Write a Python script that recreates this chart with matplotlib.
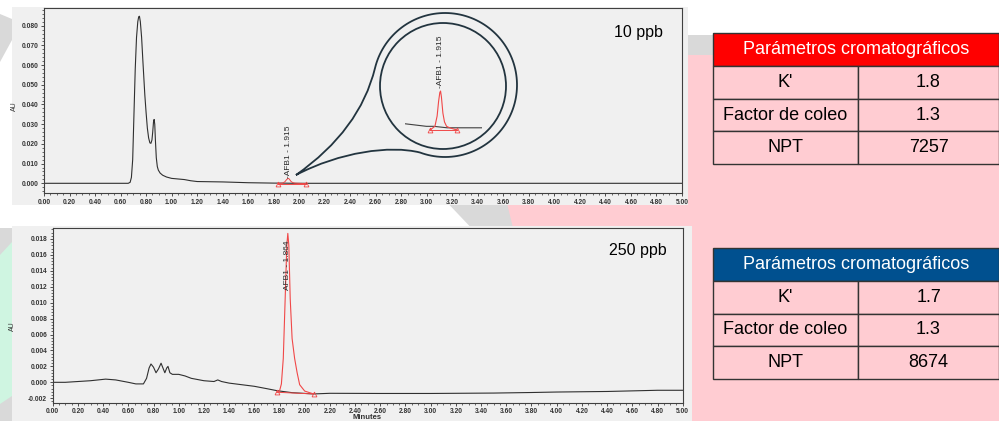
import numpy as np
import matplotlib
matplotlib.use('Agg')
import matplotlib.pyplot as plt
from matplotlib.patches import Circle, PathPatch, Polygon, Rectangle
from matplotlib.path import Path
from matplotlib.ticker import AutoMinorLocator

plt.rcParams['font.family'] = ['Liberation Sans', 'DejaVu Sans']

# ---- datos (leidos del cromatograma) ----
# 10 ppb, traza completa
t10 = [0.00, 0.60, 0.66, 0.675, 0.685, 0.695, 0.705, 0.715, 0.725, 0.735, 0.742, 0.748,
       0.755, 0.765, 0.775, 0.79, 0.80, 0.81, 0.82, 0.83, 0.838, 0.846, 0.852, 0.858,
       0.863, 0.868, 0.873, 0.88, 0.888, 0.896, 0.91, 0.93, 0.96, 1.00, 1.05, 1.10,
       1.15, 1.20, 1.30, 1.40, 1.50, 1.60, 1.70, 1.80, 1.86, 1.97, 2.05, 2.20, 2.40,
       3.00, 4.00, 5.00]
au10 = [0.0, 0.0, 0.0, 0.0005, 0.003, 0.012, 0.035, 0.058, 0.074, 0.082, 0.0845, 0.0848,
        0.082, 0.074, 0.062, 0.045, 0.036, 0.028, 0.023, 0.0205, 0.0203, 0.022, 0.026, 0.031,
        0.0324, 0.030, 0.022, 0.013, 0.0085, 0.0067, 0.0052, 0.0041, 0.0032, 0.0025, 0.0022, 0.0019,
        0.0013, 0.0009, 0.0008, 0.0007, 0.0005, 0.0003, 0.0002, 0.0001, 0.0001, 0.0, 0.0, 0.0, 0.0,
        0.0, 0.0, 0.0]
# 10 ppb, pico AFB1
pk10_t = [1.83, 1.87, 1.888, 1.900, 1.910, 1.916, 1.923, 1.935, 1.948, 1.965, 1.99, 2.05]
pk10_au = [-0.00015, 0.0001, 0.0008, 0.0018, 0.0024, 0.0025, 0.0021, 0.0010, 0.0004, 0.0001, 0.0, -0.00015]
base10_t = [1.83, 2.05]
base10_au = [-0.00015, -0.00015]

# 250 ppb, traza completa
t250 = [0.00, 0.10, 0.20, 0.30, 0.42, 0.50, 0.60, 0.66, 0.72, 0.745, 0.765, 0.78, 0.80,
        0.82, 0.84, 0.86, 0.875, 0.89, 0.905, 0.915, 0.93, 0.95, 1.00, 1.05, 1.10, 1.20,
        1.28, 1.31, 1.34, 1.40, 1.50, 1.60, 1.70, 1.78, 1.90, 2.07, 2.20, 2.60, 3.00,
        3.50, 3.80, 4.00, 4.40, 4.80, 5.00]
au250 = [0.0, 0.0, 0.0001, 0.0002, 0.0004, 0.0003, 0.0, -0.0002, -0.0002, 0.0005, 0.0018, 0.0023, 0.0019,
         0.0012, 0.0017, 0.0024, 0.0018, 0.0012, 0.0018, 0.0020, 0.0012, 0.0010, 0.0010, 0.0008, 0.0005, 0.0002,
         0.0001, 0.0003, 0.0001, -0.0001, -0.0003, -0.0005, -0.0008, -0.00105, -0.0013, -0.00146, -0.00138, -0.0014, -0.0014,
         -0.00135, -0.00128, -0.00122, -0.00115, -0.0010, -0.0010]
# 250 ppb, pico AFB1
pk250_t = [1.78, 1.80, 1.815, 1.83, 1.845, 1.858, 1.866, 1.874, 1.885, 1.90, 1.92, 1.94, 1.96, 2.00, 2.07]
pk250_au = [-0.00125, -0.0011, -0.0002, 0.003, 0.0105, 0.0172, 0.0187, 0.0172, 0.0105, 0.0055, 0.003, 0.0012,
            -0.0003, -0.0011, -0.00146]
base250_t = [1.78, 2.07]
base250_au = [-0.00125, -0.00146]

params = ["K'", "Factor de coleo", "NPT"]
vals10 = ["1.8", "1.3", "7257"]
vals250 = ["1.7", "1.3", "8674"]

W, H = 999, 421
PINK = '#FFCCD2'
PANEL = '#F0F0F0'
GREY = '#D9D9D9'
RED = '#F04848'
INK = '#2a2a2a'


def frac(x0, y0, x1, y1):
    # caja en pixeles (y hacia abajo) -> fraccion de figura
    return [x0 / W, 1 - y1 / H, (x1 - x0) / W, (y1 - y0) / H]


fig = plt.figure(figsize=(9.99, 4.21), dpi=100)
fig.patch.set_facecolor('white')

# fondo de la diapositiva
bg = fig.add_axes([0, 0, 1, 1], zorder=0)
bg.set_xlim(0, W)
bg.set_ylim(H, 0)
bg.axis('off')
bg.add_patch(Rectangle((600, 35), 399, 20, color=GREY, lw=0))
bg.add_patch(Polygon([(440, 195), (505, 195), (528, 235), (478, 235)], color=GREY, lw=0))
bg.add_patch(Polygon([(520, 55), (999, 55), (999, 421), (560, 421), (505, 195)], color=PINK, lw=0))
bg.add_patch(Polygon([(0, 14), (12, 19), (12, 40), (0, 62)], color=GREY, lw=0))
bg.add_patch(Polygon([(0, 228), (12, 228), (12, 421), (0, 421)], color=GREY, lw=0))
bg.add_patch(Polygon([(0, 255), (12, 242), (12, 396), (0, 404)], color='#CFF5E1', lw=0))
bg.add_patch(Rectangle((12, 7), 676, 198, color=PANEL, lw=0))
bg.add_patch(Rectangle((12, 226), 680, 195, color=PANEL, lw=0))


def style_axes(ax, yticks, yfmt):
    ax.set_facecolor(PANEL)
    ax.set_xlim(0, 5.0)
    xt = np.round(np.arange(0, 5.01, 0.2), 2)
    ax.set_xticks(xt, ['%.2f' % v for v in xt], fontsize=4.8, fontweight='bold', color='#333333')
    ax.set_yticks(yticks, [yfmt % v for v in yticks], fontsize=4.8, fontweight='bold', color='#333333')
    ax.xaxis.set_minor_locator(AutoMinorLocator(4))
    ax.yaxis.set_minor_locator(AutoMinorLocator(5))
    ax.tick_params(which='major', direction='out', length=2.5, width=0.6, colors='#333333', pad=1.5)
    ax.tick_params(which='minor', direction='out', length=1.3, width=0.5, colors='#333333')
    for s in ax.spines.values():
        s.set_color('#404040')
        s.set_linewidth(0.8)
    ax.set_ylabel('AU', fontsize=5, color='#333333', labelpad=3)


# ---- 10 ppb ----
ax1 = fig.add_axes(frac(44, 8, 682, 193), zorder=1)
ax1.plot(t10, au10, color='#303030', lw=0.8)
ax1.plot(pk10_t, pk10_au, color=RED, lw=0.7)
ax1.plot(base10_t, base10_au, color=RED, lw=0.7, marker='^', ms=3.5, mfc='none', mec=RED, mew=0.6)
ax1.set_ylim(-0.00492, 0.08898)
style_axes(ax1, np.round(np.arange(0, 0.0801, 0.01), 3), '%.3f')
ax1.yaxis.set_label_coords(-0.04, 0.47)
ax1.text(1.915, 0.0028, '-AFB1 - 1.915', rotation=90, ha='center', va='bottom',
         fontsize=6, color=INK)
ax1.text(0.97, 0.87, '10 ppb', transform=ax1.transAxes, ha='right', va='center',
         fontsize=11.5, color='black')

# ---- 250 ppb ----
ax2 = fig.add_axes(frac(52.7, 228.3, 682.7, 402.7), zorder=1)
ax2.plot(t250, au250, color='#303030', lw=0.8)
ax2.plot(pk250_t, pk250_au, color=RED, lw=0.8)
ax2.plot(base250_t, base250_au, color=RED, lw=0.7, marker='^', ms=3.5, mfc='none', mec=RED, mew=0.6)
ax2.set_ylim(-0.00256, 0.01934)
style_axes(ax2, np.round(np.arange(-0.002, 0.01801, 0.002), 3), '%.3f')
ax2.yaxis.set_label_coords(-0.058, 0.44)
ax2.text(1.866, 0.0147, 'AFB1 - 1.864', rotation=90, ha='center', va='center',
         fontsize=6, color=INK)
ax2.text(0.975, 0.87, '250 ppb', transform=ax2.transAxes, ha='right', va='center',
         fontsize=11.5, color='black')
fig.text(367 / W, 0.001, 'Minutes', ha='center', va='bottom', fontsize=5.5,
         fontweight='bold', color='#333333')

# ---- lupa / ampliacion del pico ----
ov = fig.add_axes([0, 0, 1, 1], zorder=2)
ov.set_xlim(0, W)
ov.set_ylim(H, 0)
ov.axis('off')
ov.patch.set_alpha(0)

cx, cy, r = 445, 85, 72
a0, a1 = np.deg2rad(110.3), np.deg2rad(-166.3 + 360)
ang = np.linspace(a0, a1 - 2 * np.pi, 120)
arc = [(cx + r * np.cos(a), cy + r * np.sin(a)) for a in ang]
tip = (296, 175)
verts = [tip, (340, 152), (390, 145), arc[0]] + arc[1:] + [(360, 130), tip]
codes = ([Path.MOVETO, Path.CURVE4, Path.CURVE4, Path.CURVE4]
         + [Path.LINETO] * (len(arc) - 1) + [Path.CURVE3, Path.CURVE3])
ov.add_patch(PathPatch(Path(verts, codes), fill=False, ec='#22343f', lw=1.3))
ov.add_patch(Circle((443, 86), 63, fill=False, ec='#22343f', lw=1.3))

ins = fig.add_axes(frac(405, 80, 482, 140), zorder=3)
ins.plot(t10, au10, color='#404040', lw=0.8)
ins.plot(pk10_t, pk10_au, color=RED, lw=0.8)
ins.plot(base10_t, base10_au, color=RED, lw=0.7, marker='^', ms=3.5, mfc='none', mec=RED, mew=0.6)
ins.set_xlim(1.626, 2.254)
ins.set_ylim(-0.00083, 0.00325)
ins.axis('off')
ins.text(1.915, 0.0027, '-AFB1 - 1.915', rotation=90, ha='center', va='bottom',
         fontsize=6, color=INK, clip_on=False)

# ---- tablas de parametros ----
def draw_table(top, head_color, vals):
    x0, xm, x1, rh = 713, 858, 999, 32.8
    ov.add_patch(Rectangle((x0, top), x1 - x0, rh, fc=head_color, ec='#333333', lw=1))
    ov.text((x0 + x1) / 2, top + rh / 2, 'Parámetros cromatográficos', ha='center', va='center',
            fontsize=13, color='white')
    for i, (p, v) in enumerate(zip(params, vals)):
        y = top + rh * (i + 1)
        ov.add_patch(Rectangle((x0, y), xm - x0, rh, fc=PINK, ec='#333333', lw=1))
        ov.add_patch(Rectangle((xm, y), x1 - xm, rh, fc=PINK, ec='#333333', lw=1))
        ov.text((x0 + xm) / 2, y + rh / 2, p, ha='center', va='center', fontsize=13, color='black')
        ov.text((xm + x1) / 2, y + rh / 2, v, ha='center', va='center', fontsize=13, color='black')


draw_table(33, '#FF0000', vals10)
draw_table(248, '#00508F', vals250)

fig.savefig('out.png', dpi=100)
